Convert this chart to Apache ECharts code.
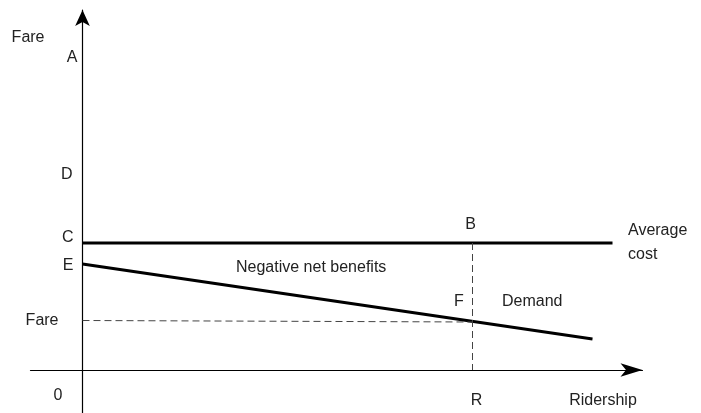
<!DOCTYPE html>
<html>
<head>
<meta charset="utf-8">
<script src="https://cdn.jsdelivr.net/npm/echarts@6/dist/echarts.min.js"></script>
<style>
html,body{margin:0;padding:0;background:#fff;}
#chart{width:701px;height:413px;}
</style>
</head>
<body>
<div id="chart"></div>
<script>
// tick labels on the axes
var yTickValues = [312, 195, 132, 104, 49, -26];
var yTickLabels = ['A', 'D', 'C', 'E', 'Fare', '0'];
var xTickValues = [390, 520];
var xTickLabels = ['R', 'Ridership'];

// curves (ridership, fare)
var avgCost = [[0, 127], [530, 127]];
var demand = [[0, 106], [510, 31]];
var rLine = [[390, 127], [390, 0]];
var fareLine = [[0, 49.5], [390, 48]];

// text in the plot
var notes = ['B', 'F', 'Demand', 'Negative net benefits', 'Average\ncost'];

var txt = {color: '#222', fontFamily: 'Liberation Sans, Arial, sans-serif', fontSize: 16};

var yRich = {
	a: {padding: [0, 0, 0, 0]},
	d: {padding: [0, 5, 0, 0]},
	c: {padding: [0, 4, 0, 0]},
	e: {padding: [0, 4, 0, 0]},
	f: {padding: [0, 19, 0, 0]},
	z: {padding: [0, 15, 0, 0]}
};
var yKeys = ['a', 'd', 'c', 'e', 'f', 'z'];
var xRich = {
	r: {padding: [0, 0, 0, 8]},
	s: {padding: [0, 0, 0, 1]}
};
var xKeys = ['r', 's'];

function note(i, coord, align) {
	return {
		coord: coord,
		symbol: 'circle',
		symbolSize: 0,
		label: {
			show: true,
			position: 'inside',
			formatter: notes[i],
			align: align || 'center',
			verticalAlign: 'middle',
			lineHeight: 24,
			color: txt.color,
			fontFamily: txt.fontFamily,
			fontSize: txt.fontSize
		}
	};
}

var chart = echarts.init(document.getElementById('chart'));
var option = {
	animation: false,
	backgroundColor: '#fff',
	grid: {left: 30.5, right: 58.5, top: 10, bottom: 0, containLabel: false, outerBoundsMode: 'none'},
	xAxis: {
		type: 'value',
		min: -52,
		max: 560,
		splitLine: {show: false},
		axisTick: {show: false},
		axisLine: {
			onZero: true,
			symbol: ['none', 'arrow'],
			symbolSize: [10, 22],
			lineStyle: {color: '#000', width: 1.2}
		},
		axisLabel: {
			customValues: xTickValues,
			margin: -20,
			color: txt.color,
			fontFamily: txt.fontFamily,
			fontSize: txt.fontSize,
			formatter: function (v) {
				var i = xTickValues.indexOf(v);
				return '{' + xKeys[i] + '|' + xTickLabels[i] + '}';
			},
			rich: xRich
		}
	},
	yAxis: {
		type: 'value',
		min: -43,
		max: 360,
		splitLine: {show: false},
		axisTick: {show: false},
		name: 'Fare',
		nameLocation: 'end',
		nameGap: -28,
		nameTextStyle: {
			align: 'right',
			verticalAlign: 'middle',
			padding: [0, 38, 0, 0],
			color: txt.color,
			fontFamily: txt.fontFamily,
			fontSize: txt.fontSize
		},
		axisLine: {
			onZero: true,
			symbol: ['none', 'arrow'],
			symbolSize: [11, 16],
			lineStyle: {color: '#000', width: 1.2}
		},
		axisLabel: {
			customValues: yTickValues,
			margin: -47,
			color: txt.color,
			fontFamily: txt.fontFamily,
			fontSize: txt.fontSize,
			formatter: function (v) {
				var i = yTickValues.indexOf(v);
				return '{' + yKeys[i] + '|' + yTickLabels[i] + '}';
			},
			rich: yRich
		}
	},
	series: [
		{
			name: 'Average cost',
			type: 'line',
			data: avgCost,
			symbol: 'none',
			silent: true,
			lineStyle: {color: '#000', width: 3},
			markPoint: {data: [note(4, [545.5, 127], 'left'), note(3, [153.5, 102.5], 'left')]}
		},
		{
			name: 'Demand',
			type: 'line',
			data: demand,
			symbol: 'none',
			silent: true,
			lineStyle: {color: '#000', width: 3},
			markPoint: {data: [note(2, [419.5, 68], 'left'), note(1, [376.5, 68.5])]}
		},
		{
			type: 'line',
			data: rLine,
			symbol: 'none',
			silent: true,
			lineStyle: {color: '#444', width: 1, type: [7, 4]},
			markPoint: {data: [note(0, [388, 145])]}
		},
		{
			type: 'line',
			data: fareLine,
			symbol: 'none',
			silent: true,
			lineStyle: {color: '#444', width: 1, type: [7, 4]}
		}
	]
};
chart.setOption(option);
</script>
</body>
</html>
